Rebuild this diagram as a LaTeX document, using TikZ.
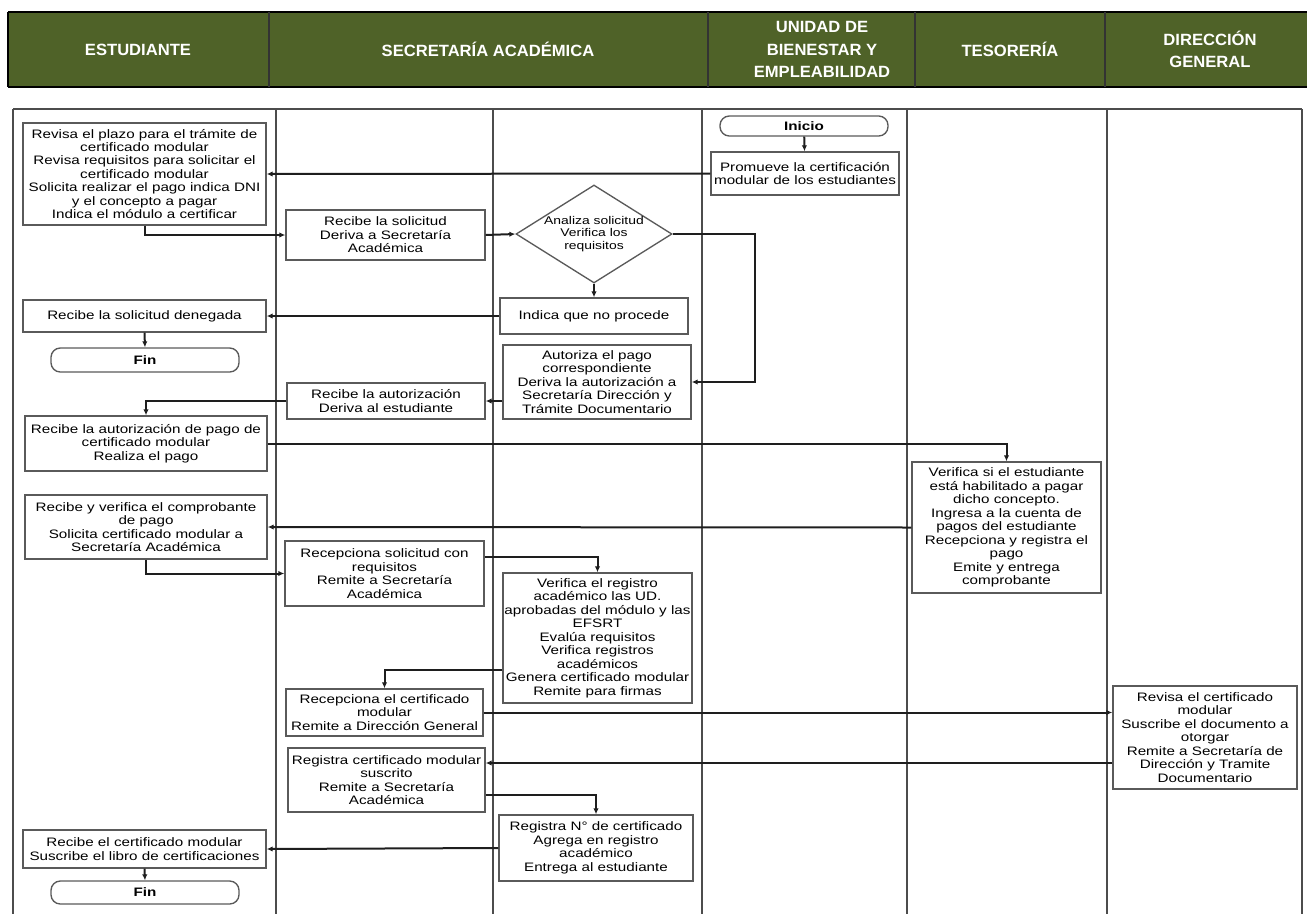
\documentclass[tikz,border=0pt]{standalone}
\usepackage{fontspec}
\setmainfont{Liberation Sans}
\newfontfamily\boxfont[FakeStretch=1.24]{Liberation Sans}
\newfontfamily\headfont[FakeStretch=1.02]{Liberation Sans}
\usetikzlibrary{shapes.geometric,calc,arrows.meta}
\definecolor{hdrgreen}{HTML}{4F6228}
\definecolor{boxgray}{HTML}{5A5A5A}
\definecolor{flowblack}{HTML}{1E1E1E}

\begin{document}
\begin{tikzpicture}[x=0.75pt,y=-0.75pt,
    proc/.style={draw=boxgray,line width=1pt,fill=white,align=center,inner sep=0pt,
        font=\boxfont\fontsize{9.2}{10.1}\selectfont},
    boxsz/.style 2 args={minimum width=#1*0.75pt,minimum height=#2*0.75pt},
    term/.style={proc,rounded corners=7pt,font=\boxfont\fontsize{9.2}{10.1}\selectfont\bfseries},
    dec/.style={proc,diamond,aspect=1.6,font=\boxfont\fontsize{8.4}{9.2}\selectfont},
    flow/.style={draw=flowblack,line width=1.5pt,-{Latex[length=4.5pt,width=4pt]}},
    lane/.style={draw=black!70,line width=1.1pt},
    hdr/.style={text=white,align=center,font=\headfont\bfseries\fontsize{12.2}{17}\selectfont}]

\useasboundingbox (0,0) rectangle (1307,914);

% header
\fill[hdrgreen] (8,12) rectangle (1307,87);
\draw[line width=1.8pt] (8,12) -- (1307,12);
\draw[line width=1.8pt] (8,87) -- (1307,87);
\draw[line width=1pt] (8,12) -- (8,87);
\foreach \x in {269,708,915,1105} \draw[line width=1pt,black!80] (\x,12) -- (\x,87);

\node[hdr] (hest) at (138,49.5) {ESTUDIANTE};
\node[hdr] (hsec) at (488,49.5) {SECRETARÍA ACADÉMICA};
\node[hdr] (hube) at (822,49.5) {UNIDAD DE\\BIENESTAR Y\\EMPLEABILIDAD};
\node[hdr] (htes) at (1010,49.5) {TESORERÍA};
\node[hdr] (hdir) at (1210,49.5) {DIRECCIÓN\\GENERAL};

% lanes
\draw[lane] (13,109) -- (1302,109);
\foreach \x in {13,276,493,702,907,1107,1302} \draw[lane] (\x,109) -- (\x,914);

% nodes
\node[term,boxsz={168}{20}] (inicio) at (804,126) {Inicio};
\node[proc,boxsz={188}{43}] (promueve) at (805,173.5) {Promueve la certificación\\modular de los estudiantes};
\node[proc,boxsz={243}{102}] (revisa) at (144.5,174) {Revisa el plazo para el trámite de\\certificado modular\\Revisa requisitos para solicitar el\\certificado modular\\Solicita realizar el pago indica DNI\\y el concepto a pagar\\Indica el módulo a certificar};
\node[proc,boxsz={199}{50}] (recibesol) at (385.5,235) {Recibe la solicitud\\Deriva a Secretaría\\Académica};
\node[dec,boxsz={156}{98}] (analiza) at (594,234) {Analiza solicitud\\Verifica los\\requisitos};
\node[proc,boxsz={188}{36}] (noprocede) at (594,316) {Indica que no procede};
\node[proc,boxsz={243}{32}] (denegada) at (144.5,316) {Recibe la solicitud denegada};
\node[term,boxsz={188}{24}] (fina) at (145,360) {Fin};
\node[proc,boxsz={188}{74}] (autoriza) at (597,382) {Autoriza el pago\\correspondiente\\Deriva la autorización a\\Secretaría Dirección y\\Trámite Documentario};
\node[proc,boxsz={198}{36}] (recibeaut) at (386,401) {Recibe la autorización\\Deriva al estudiante};
\node[proc,boxsz={242}{55}] (pago) at (146,443.5) {Recibe la autorización de pago de\\certificado modular\\Realiza el pago};
\node[proc,boxsz={189}{131}] (verifica) at (1006.5,527.5) {Verifica si el estudiante\\está habilitado a pagar\\dicho concepto.\\Ingresa a la cuenta de\\pagos del estudiante\\Recepciona y registra el\\pago\\Emite y entrega\\comprobante};
\node[proc,boxsz={242}{64}] (comprobante) at (146,527) {Recibe y verifica el comprobante\\de pago\\Solicita certificado modular a\\Secretaría Académica};
\node[proc,boxsz={199}{65}] (recepsol) at (384.5,573.5) {Recepciona solicitud con\\requisitos\\Remite a Secretaría\\Académica};
\node[proc,boxsz={189}{130}] (registro) at (597.5,638) {Verifica el registro\\académico las UD.\\aprobadas del módulo y las\\EFSRT\\Evalúa requisitos\\Verifica registros\\académicos\\Genera certificado modular\\Remite para firmas};
\node[proc,boxsz={197}{47}] (recepcert) at (384.5,712.5) {Recepciona el certificado\\modular\\Remite a Dirección General};
\node[proc,boxsz={184}{103}] (revisacert) at (1205,737.5) {Revisa el certificado\\modular\\Suscribe el documento a\\otorgar\\Remite a Secretaría de\\Dirección y Tramite\\Documentario};
\node[proc,boxsz={197}{64}] (suscrito) at (386.5,780) {Registra certificado modular\\suscrito\\Remite a Secretaría\\Académica};
\node[proc,boxsz={194}{66}] (registran) at (596,848) {Registra N° de certificado\\Agrega en registro\\académico\\Entrega al estudiante};
\node[proc,boxsz={243}{38}] (recibecert) at (144.5,849) {Recibe el certificado modular\\Suscribe el libro de certificaciones};
\node[term,boxsz={188}{23}] (finb) at (145,892.5) {Fin};

% connectors
\draw[flow] (inicio) -- (promueve);
\draw[flow] (promueve.west) -- (revisa.east);
\draw[flow] (revisa.south) |- (recibesol.west);
\draw[flow] (recibesol.east) -- (analiza.west);
\draw[flow] (analiza.south) -- (noprocede.north);
\draw[flow] (noprocede.west) -- (denegada.east);
\draw[flow] (denegada.south) -- (fina.north);
\draw[flow] (analiza.east) -- ++(82,0) |- (autoriza.east);
\draw[flow] (autoriza.west |- recibeaut.east) -- (recibeaut.east);
\draw[flow] (recibeaut.west) -| (pago.north);
\draw[flow] (pago.east) -| (verifica.north);
\draw[flow] (verifica.west) -- (comprobante.east);
\draw[flow] (comprobante.south) |- (recepsol.west);
\draw[flow] ($(recepsol.east)+(0,-16.5)$) -| (registro.north);
\draw[flow] ($(registro.west)+(0,32)$) -| (recepcert.north);
\draw[flow] (recepcert.east) -- (recepcert.east -| revisacert.west);
\draw[flow] ($(revisacert.west)+(0,25.5)$) -- ($(suscrito.east)+(0,-17)$);
\draw[flow] ($(suscrito.east)+(0,15)$) -| (registran.north);
\draw[flow] (registran.west) -- (recibecert.east);
\draw[flow] (recibecert.south) -- (finb.north);

\end{tikzpicture}
\end{document}
